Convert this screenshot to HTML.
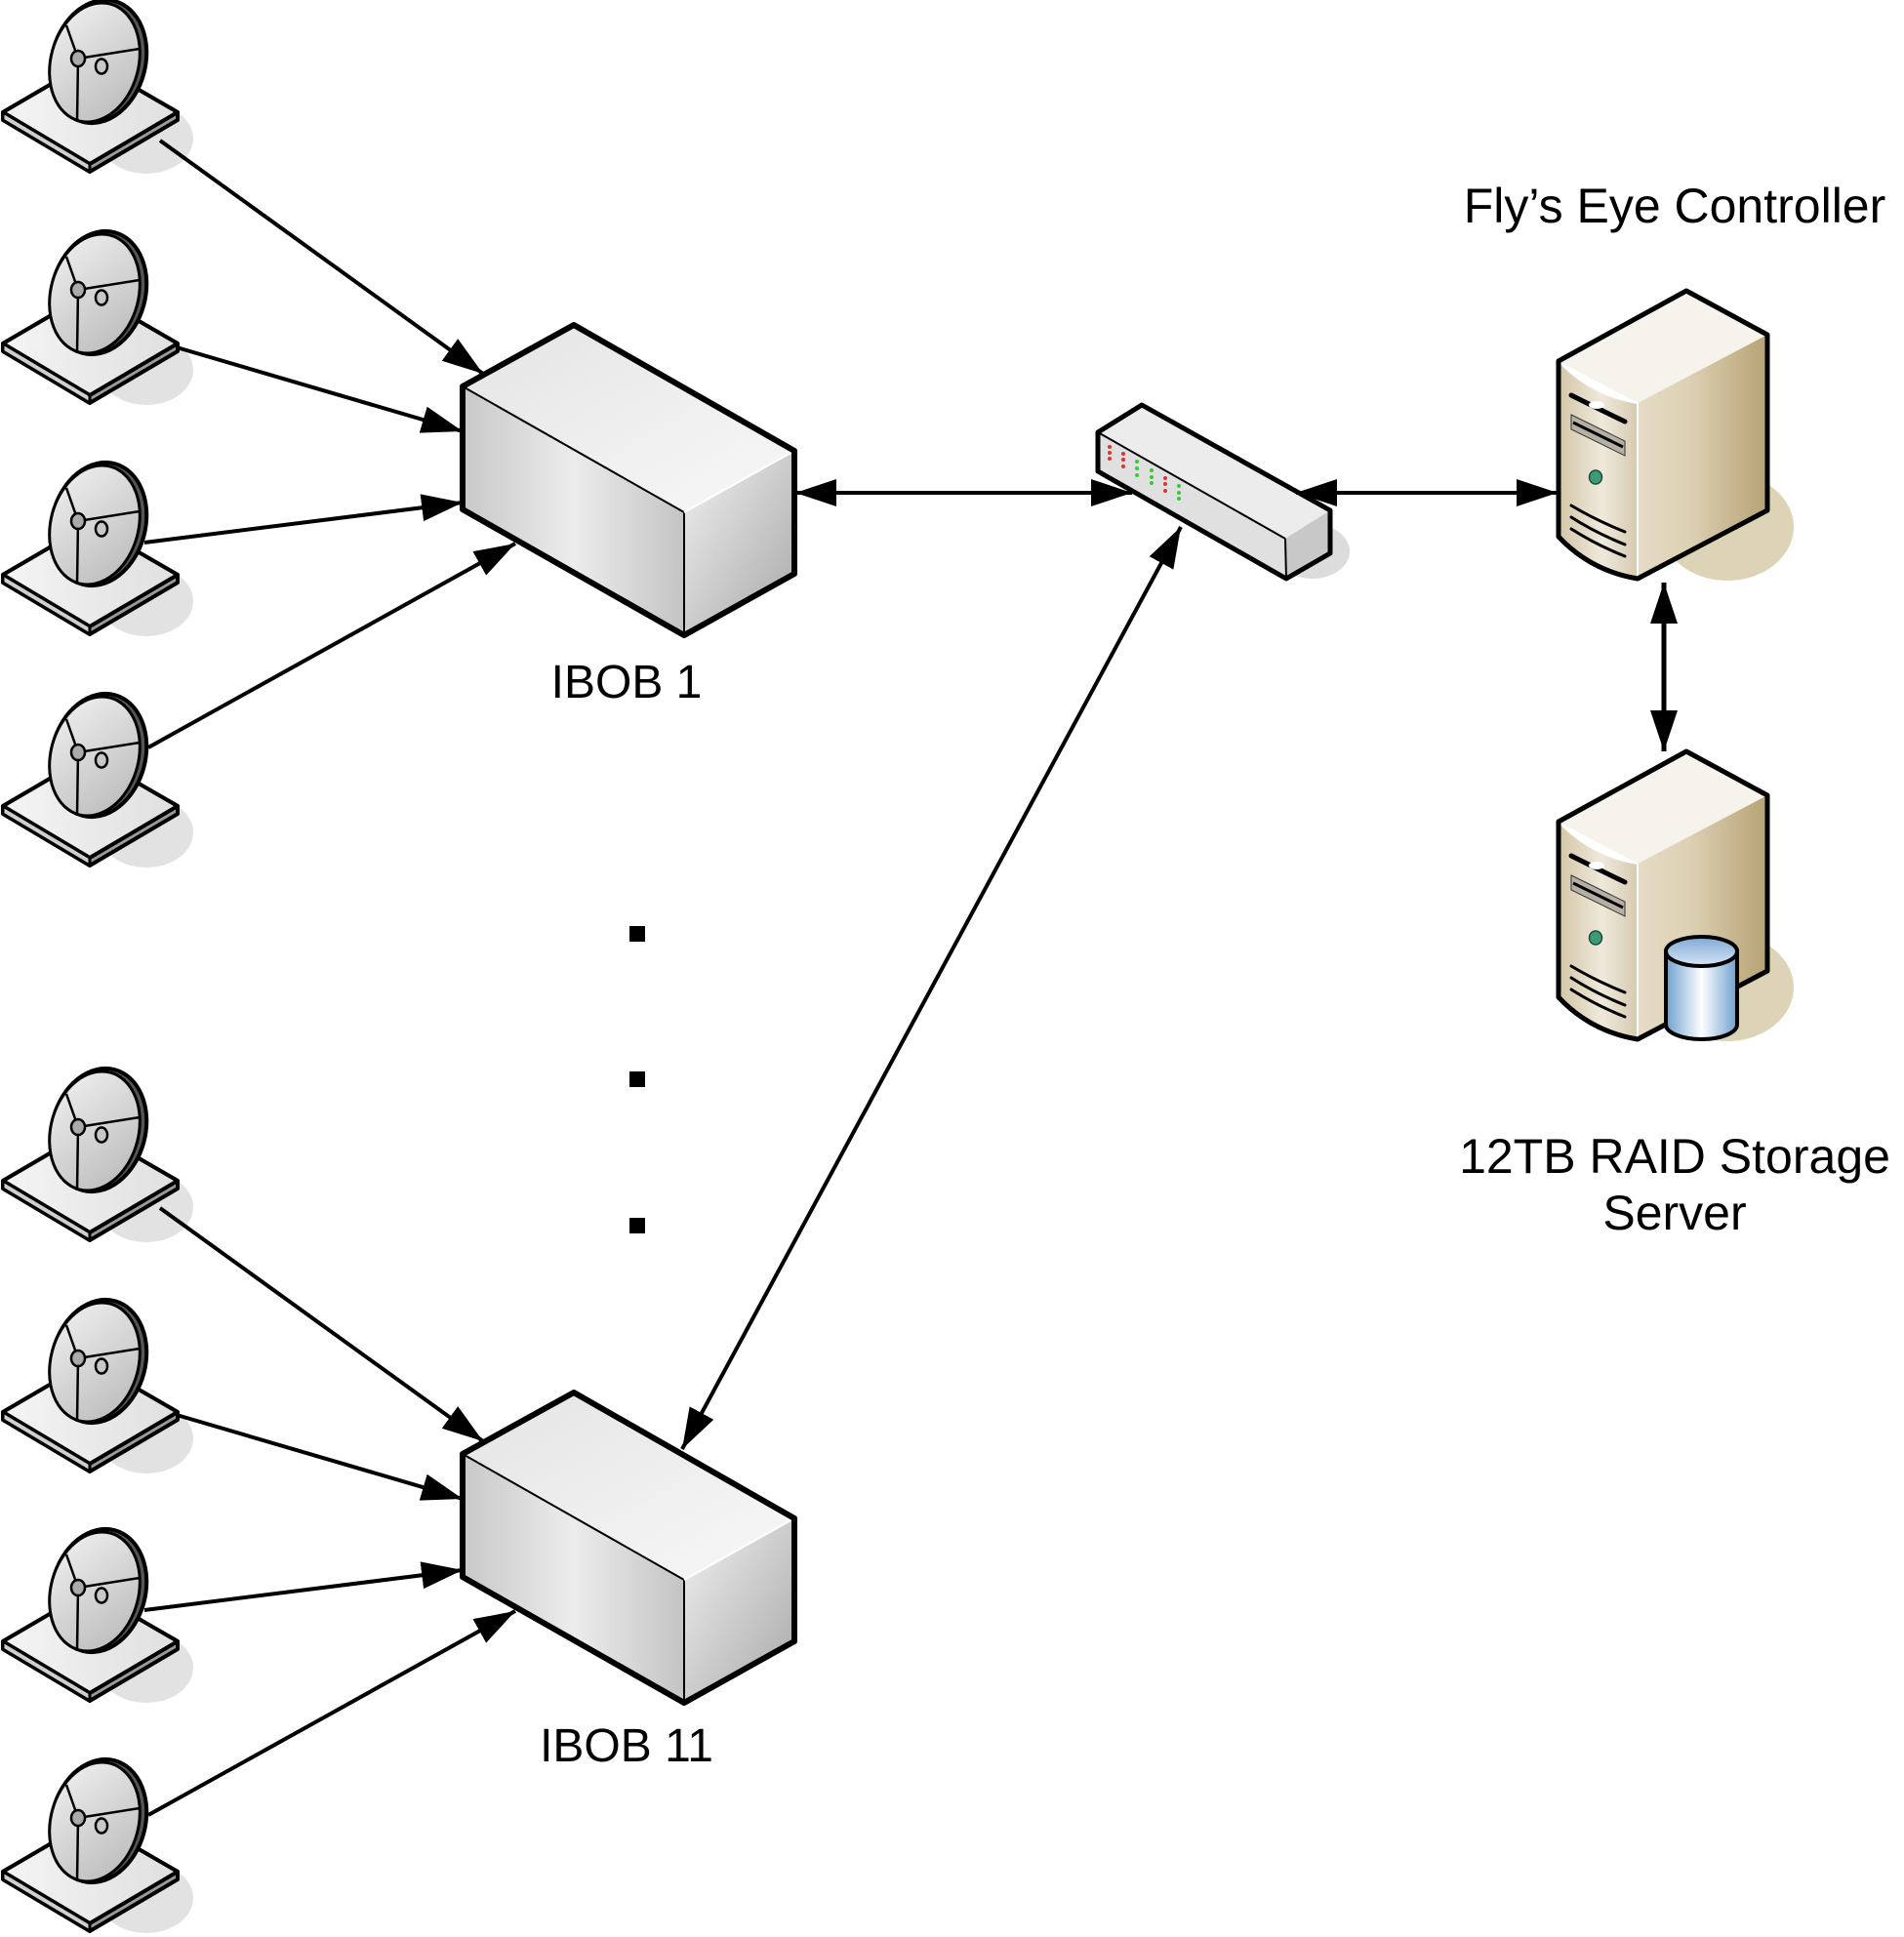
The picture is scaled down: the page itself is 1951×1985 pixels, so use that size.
<!DOCTYPE html>
<html><head><meta charset="utf-8"><style>
html,body{margin:0;padding:0;background:#fff}
svg{display:block}
text{font-family:"Liberation Sans",Arial,sans-serif;fill:#000}
</style></head><body>
<svg width="1951" height="1985" viewBox="0 0 1951 1985" xmlns="http://www.w3.org/2000/svg">
<defs>
<marker id="ah" markerUnits="userSpaceOnUse" markerWidth="44" markerHeight="30" refX="42" refY="14" orient="auto-start-reverse">
<path d="M0,0 L42,14 L0,28 z" fill="#000"/>
</marker>
<linearGradient id="dishG" x1="0" y1="0" x2="1" y2="1">
<stop offset="0" stop-color="#f2f2f2"/><stop offset="1" stop-color="#b8b8b8"/>
</linearGradient>
<linearGradient id="baseG" x1="0" y1="0" x2="1" y2="0">
<stop offset="0" stop-color="#f4f4f4"/><stop offset="1" stop-color="#e0e0e0"/>
</linearGradient>
<linearGradient id="boxFront" x1="0" y1="0" x2="1" y2="0">
<stop offset="0" stop-color="#c8c8c8"/><stop offset="0.5" stop-color="#ececec"/><stop offset="1" stop-color="#c4c4c4"/>
</linearGradient>
<linearGradient id="boxTop" x1="0" y1="0" x2="1" y2="1">
<stop offset="0" stop-color="#e4e4e4"/><stop offset="1" stop-color="#f8f8f8"/>
</linearGradient>
<linearGradient id="boxRight" x1="0" y1="0" x2="1" y2="1">
<stop offset="0" stop-color="#f0f0f0"/><stop offset="1" stop-color="#a8a8a8"/>
</linearGradient>
<linearGradient id="srvFront" x1="0" y1="0" x2="1" y2="0">
<stop offset="0" stop-color="#d3c6a6"/><stop offset="0.55" stop-color="#efe9dc"/><stop offset="1" stop-color="#d6cab0"/>
</linearGradient>
<linearGradient id="srvRight" x1="0" y1="0" x2="1" y2="0">
<stop offset="0" stop-color="#e6dcc6"/><stop offset="0.4" stop-color="#ddd0b4"/><stop offset="1" stop-color="#b6a374"/>
</linearGradient>
<linearGradient id="cylG" x1="0" y1="0" x2="1" y2="0">
<stop offset="0" stop-color="#6e9fcf"/><stop offset="0.5" stop-color="#ffffff"/><stop offset="1" stop-color="#6e9fcf"/>
</linearGradient>
<linearGradient id="cylTop" x1="0" y1="0" x2="0" y2="1">
<stop offset="0" stop-color="#7fa9d6"/><stop offset="1" stop-color="#d7e6f5"/>
</linearGradient>
<g id="dish">
<ellipse cx="150" cy="142" rx="48" ry="36" fill="#e2e2e2"/>
<path d="M3,115 L92,63 L182,115 L182,123 L92,176 L3,123 Z" fill="#9a9a9a" stroke="#000" stroke-width="4" stroke-linejoin="round"/>
<path d="M3,115 L92,63 L182,115 L92,168 Z" fill="url(#baseG)" stroke="#000" stroke-width="4" stroke-linejoin="round"/>
<path d="M3,115 L92,168 L92,176 L3,123 Z" fill="#cfcfcf" stroke="#000" stroke-width="3" stroke-linejoin="round"/>
<ellipse cx="101" cy="63" rx="48" ry="64" transform="rotate(15 101 63)" fill="#555" stroke="#000" stroke-width="4"/>
<ellipse cx="97" cy="64" rx="45" ry="62" transform="rotate(15 97 64)" fill="url(#dishG)" stroke="#000" stroke-width="3"/>
<path d="M80,60 L68,26 M80,60 L143,50 M80,60 L79,125" stroke="#000" stroke-width="2.5" fill="none"/>
<ellipse cx="80" cy="60" rx="7" ry="8" fill="#aaa" stroke="#000" stroke-width="2.5"/>
<ellipse cx="104" cy="68" rx="6" ry="7.5" fill="#c8c8c8" stroke="#000" stroke-width="2.5"/>
</g>
<g id="ibob">
<polygon points="474,396 588,333 814,462 701,525" fill="url(#boxTop)"/>
<polygon points="474,396 701,525 701,651 474,522" fill="url(#boxFront)"/>
<polygon points="701,525 814,462 814,588 701,651" fill="url(#boxRight)"/>
<line x1="474" y1="396" x2="701" y2="525" stroke="#000" stroke-width="2"/>
<line x1="701" y1="525" x2="701" y2="651" stroke="#000" stroke-width="2"/>
<line x1="701" y1="525" x2="814" y2="462" stroke="#fff" stroke-width="2"/>
<polygon points="474,396 588,333 814,462 814,588 701,651 474,522" fill="none" stroke="#000" stroke-width="6" stroke-linejoin="round"/>
</g>
<g id="srv">
<ellipse cx="1770" cy="540" rx="68" ry="55" fill="#ddd3b6"/>
<polygon points="1597,370 1728,298 1811,343 1678,413" fill="#f6f3ec"/>
<polygon points="1678,413 1811,343 1811,523 1678,593" fill="url(#srvRight)"/>
<path d="M1597,370 Q1630,405 1678,413 L1678,593 Q1630,585 1597,550 Z" fill="url(#srvFront)"/>
<path d="M1597,370 Q1630,405 1678,413" fill="none" stroke="#fff" stroke-width="2"/>
<line x1="1678" y1="413" x2="1678" y2="593" stroke="#fff" stroke-width="2"/>
<path d="M1610,405 Q1640,420 1665,432" stroke="#000" stroke-width="5" fill="none" stroke-linecap="round"/>
<ellipse cx="1636" cy="415" rx="8" ry="4" fill="#fff"/>
<polygon points="1610,425 1665,452 1665,467 1610,440" fill="#b5b0a4" stroke="#333" stroke-width="1"/>
<line x1="1612" y1="433" x2="1663" y2="458" stroke="#000" stroke-width="3"/>
<ellipse cx="1635" cy="489" rx="6.5" ry="7" fill="#3d9a76" stroke="#1c4d3a" stroke-width="1.5"/>
<path d="M1610,518 Q1635,533 1665,545 M1610,530 Q1635,546 1665,558 M1610,542 Q1635,558 1665,570" stroke="#000" stroke-width="3" fill="none" stroke-linecap="round"/>
<path d="M1597,370 L1728,298 L1811,343 L1811,523 L1678,593 Q1630,585 1597,550 Z" fill="none" stroke="#000" stroke-width="5" stroke-linejoin="round"/>
</g>
</defs>

<use href="#dish" x="0" y="0"/>
<use href="#dish" x="0" y="237"/>
<use href="#dish" x="0" y="474"/>
<use href="#dish" x="0" y="711"/>
<use href="#dish" x="0" y="1095"/>
<use href="#dish" x="0" y="1332"/>
<use href="#dish" x="0" y="1567"/>
<use href="#dish" x="0" y="1803"/>

<use href="#ibob" x="0" y="0"/>
<use href="#ibob" x="0" y="1094"/>

<g stroke="#000" stroke-width="4" fill="none">
<line x1="164" y1="144" x2="495" y2="383" marker-end="url(#ah)"/>
<line x1="181" y1="356" x2="474" y2="442" marker-end="url(#ah)"/>
<line x1="148" y1="556" x2="474" y2="515" marker-end="url(#ah)"/>
<line x1="152" y1="766" x2="528" y2="557" marker-end="url(#ah)"/>
<line x1="164" y1="1238" x2="495" y2="1477" marker-end="url(#ah)"/>
<line x1="181" y1="1450" x2="474" y2="1536" marker-end="url(#ah)"/>
<line x1="148" y1="1650" x2="474" y2="1609" marker-end="url(#ah)"/>
<line x1="152" y1="1860" x2="528" y2="1651" marker-end="url(#ah)"/>
</g>

<ellipse cx="1345" cy="565" rx="38" ry="28" fill="#dcdcdc"/>
<polygon points="1125,443 1170,415 1363,523 1317,552" fill="#ececec"/>
<polygon points="1125,443 1317,552 1318,593 1125,483" fill="#e0e0e0"/>
<polygon points="1317,552 1363,523 1363,567 1318,593" fill="#c8c8c8"/>
<line x1="1125" y1="443" x2="1317" y2="552" stroke="#000" stroke-width="2"/>
<line x1="1317" y1="552" x2="1318" y2="593" stroke="#000" stroke-width="2"/>
<g fill="#d33">
<circle cx="1137" cy="458" r="2"/><circle cx="1137" cy="464" r="2"/><circle cx="1137" cy="470" r="2"/>
<circle cx="1151" cy="465" r="2"/><circle cx="1151" cy="471" r="2"/><circle cx="1151" cy="478" r="2"/>
<circle cx="1194" cy="490" r="2"/><circle cx="1194" cy="496" r="2"/><circle cx="1194" cy="503" r="2"/>
</g>
<g fill="#3c3">
<circle cx="1165" cy="473" r="2"/><circle cx="1165" cy="480" r="2"/><circle cx="1165" cy="487" r="2"/>
<circle cx="1180" cy="482" r="2"/><circle cx="1180" cy="489" r="2"/><circle cx="1180" cy="495" r="2"/>
<circle cx="1208" cy="498" r="2"/><circle cx="1208" cy="505" r="2"/><circle cx="1208" cy="511" r="2"/>
</g>
<polygon points="1125,443 1170,415 1363,523 1363,567 1318,593 1125,483" fill="none" stroke="#000" stroke-width="5" stroke-linejoin="round"/>

<use href="#srv" x="0" y="0"/>
<use href="#srv" x="0" y="472"/>
<path d="M1707,975 L1707,1050 A36.5,15 0 0 0 1780,1050 L1780,975 Z" fill="url(#cylG)" stroke="#000" stroke-width="4"/>
<ellipse cx="1743.5" cy="975" rx="36.5" ry="15" fill="url(#cylTop)" stroke="#000" stroke-width="4"/>

<g stroke="#000" stroke-width="4" fill="none">
<line x1="815" y1="505" x2="1160" y2="505" marker-start="url(#ah)" marker-end="url(#ah)"/>
<line x1="1328" y1="505" x2="1596" y2="505" marker-start="url(#ah)" marker-end="url(#ah)"/>
<line x1="1210" y1="540" x2="699" y2="1485" marker-start="url(#ah)" marker-end="url(#ah)"/>
<line x1="1705" y1="597" x2="1705" y2="770" stroke-width="5" marker-start="url(#ah)" marker-end="url(#ah)"/>
</g>

<rect x="645" y="949" width="16" height="16" fill="#000"/>
<rect x="645" y="1098" width="16" height="16" fill="#000"/>
<rect x="645" y="1248" width="16" height="16" fill="#000"/>

<text x="642" y="715" font-size="48" text-anchor="middle">IBOB 1</text>
<text x="642" y="1805" font-size="48" text-anchor="middle">IBOB 11</text>
<text x="1716" y="228" font-size="50" text-anchor="middle">Fly’s Eye Controller</text>
<text x="1716" y="1202" font-size="50" text-anchor="middle">12TB RAID Storage</text>
<text x="1716" y="1260" font-size="50" text-anchor="middle">Server</text>
</svg>
</body></html>
